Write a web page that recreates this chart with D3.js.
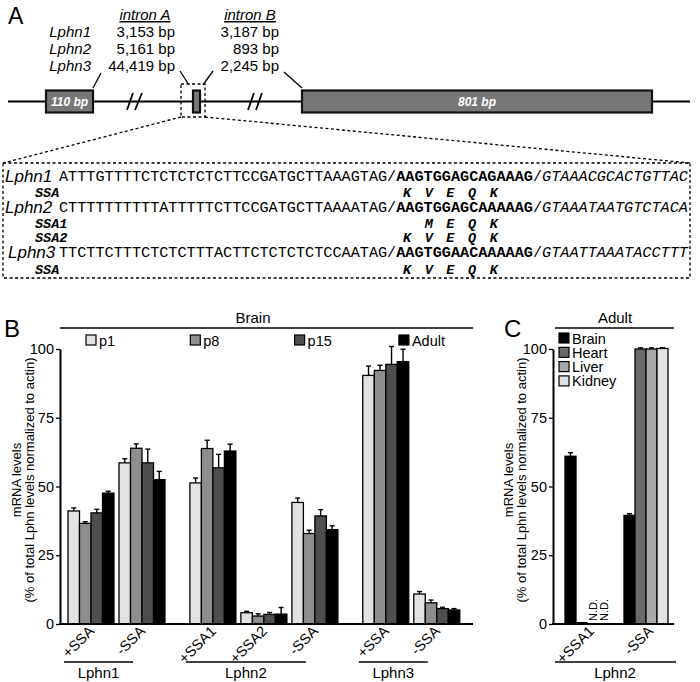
<!DOCTYPE html>
<html><head><meta charset="utf-8">
<script src="https://cdn.jsdelivr.net/npm/d3@7"></script>
<style>body{margin:0;background:#fff} svg{display:block}</style>
</head><body>
<script>
// ---------------- DATA ----------------
// Panel A
const geneNames = ["Lphn1", "Lphn2", "Lphn3"];
const intronALengths = ["3,153 bp", "5,161 bp", "44,419 bp"];
const intronBLengths = ["3,187 bp", "893 bp", "2,245 bp"];
const exonLabels = ["110 bp", "", "801 bp"];
const seqIntron5 = ["ATTTGTTTTCTCTCTCTCTTCCGATGCTTAAAGTAG", "CTTTTTTTTTTATTTTTCTTCCGATGCTTAAAATAG", "TTCTTCTTTCTCTCTTTACTTCTCTCTCTCCAATAG"];
const seqExon = ["AAGTGGAGCAGAAAG", "AAGTGGAGCAAAAAG", "AAGTGGAACAAAAAG"];
const seqIntron3 = ["GTAAACGCACTGTTAC", "GTAAATAATGTCTACA", "GTAATTAAATACCTTT"];
const aaRowLabels = [["SSA"], ["SSA1", "SSA2"], ["SSA"]];
const aaRows = [[["K","V","E","Q","K"]], [["","M","E","Q","K"], ["K","V","E","Q","K"]], [["K","V","E","Q","K"]]];

// Panel B (Brain, developmental stages)
const stages = ["p1", "p8", "p15", "Adult"];
const genesB = ["Lphn1", "Lphn2", "Lphn3"];
const groupsB = ["+SSA", "-SSA", "+SSA1", "+SSA2", "-SSA", "+SSA", "-SSA"];
const groupGeneB = [0, 0, 1, 1, 1, 2, 2];
const p1Values    = [41.1, 58.6, 51.3, 4.1, 44.2, 90.4, 10.9];
const p8Values    = [36.6, 63.9, 63.8, 2.9, 32.9, 92.2, 7.7];
const p15Values   = [40.4, 58.6, 56.8, 3.5, 39.3, 94.4, 5.6];
const adultValues = [47.6, 52.5, 62.9, 3.6, 34.3, 95.4, 5.1];
const p1Errors    = [1.1, 1.5, 1.8, 0.5, 1.6, 3.4, 0.9];
const p8Errors    = [0.6, 1.6, 3.0, 0.8, 1.2, 1.9, 1.0];
const p15Errors   = [1.3, 5.0, 4.9, 0.7, 2.3, 6.5, 0.5];
const adultErrors = [0.7, 3.0, 2.5, 2.4, 1.4, 4.5, 0.5];
const yTicks = [0, 25, 50, 75, 100];

// Panel C (Adult, tissues)
const tissues = ["Brain", "Heart", "Liver", "Kidney"];
const geneC = "Lphn2";
const groupsC = ["+SSA1", "-SSA"];
const brainValues  = [61.0, 39.5];
const heartValues  = [0.5, 100.0];
const liverValues  = [null, 100.0];
const kidneyValues = [null, 100.2];
const brainErrors  = [1.3, 0.6];
const heartErrors  = [0, 0.4];
const liverErrors  = [0, 0.4];
const kidneyErrors = [0, 0.3];

// ---------------- STYLE ----------------
const SANS = "'Liberation Sans', Arial, sans-serif";
const MONO = "'Liberation Mono', 'Courier New', monospace";
const stageColors = {p1: "#e2e2e2", p8: "#8e8e8e", p15: "#4e4e4e", Adult: "#000000"};
const tissueColors = {Brain: "#000000", Heart: "#6a6a6a", Liver: "#a9a9a9", Kidney: "#e2e2e2"};

const svg = d3.select("body").append("svg").attr("width", 700).attr("height", 682)
  .style("font-family", SANS);

// ================= PANEL A =================
const A = svg.append("g");
A.append("text").attr("x", 8).attr("y", 24).attr("font-size", 23).text("A");
A.append("text").attr("x", 145).attr("y", 20).attr("text-anchor", "middle").attr("font-size", 15)
  .attr("font-style", "italic").attr("text-decoration", "underline").text("intron A");
A.append("text").attr("x", 250).attr("y", 20).attr("text-anchor", "middle").attr("font-size", 15)
  .attr("font-style", "italic").attr("text-decoration", "underline").text("intron B");
const rowY = d3.scaleLinear().domain([0, 1]).range([37, 54]);
geneNames.forEach((g, i) => {
  A.append("text").attr("x", 91).attr("y", rowY(i)).attr("text-anchor", "end").attr("font-size", 15)
    .attr("font-style", "italic").text(g);
  A.append("text").attr("x", 175).attr("y", rowY(i)).attr("text-anchor", "end").attr("font-size", 15).text(intronALengths[i]);
  A.append("text").attr("x", 279).attr("y", rowY(i)).attr("text-anchor", "end").attr("font-size", 15).text(intronBLengths[i]);
});
// gene line
A.append("line").attr("x1", 8).attr("x2", 690).attr("y1", 101.5).attr("y2", 101.5).attr("stroke", "#000").attr("stroke-width", 2);
// breaks
[[127, 133], [135, 142], [248, 254], [256, 262]].forEach(([a, b]) => {
  A.append("line").attr("x1", a).attr("y1", 110).attr("x2", b).attr("y2", 93).attr("stroke", "#000").attr("stroke-width", 1.8);
});
// exons
const exonX = [[46, 93], [193, 200], [302, 652]];
exonX.forEach(([a, b], i) => {
  A.append("rect").attr("x", a).attr("y", 90.5).attr("width", b - a).attr("height", 22)
    .attr("fill", "#777").attr("stroke", "#111").attr("stroke-width", 2.2);
  if (exonLabels[i]) A.append("text").attr("x", (a + b) / 2).attr("y", 106).attr("text-anchor", "middle")
    .attr("font-size", 12).attr("font-weight", "bold").attr("font-style", "italic").attr("fill", "#fff").text(exonLabels[i]);
});
// connectors
[[93, 88, 101, 73], [189, 85, 180, 71], [203, 85, 213, 71], [302, 88, 284, 72]].forEach(([x1, y1, x2, y2]) => {
  A.append("line").attr("x1", x1).attr("y1", y1).attr("x2", x2).attr("y2", y2).attr("stroke", "#000").attr("stroke-width", 1.3);
});
const dash = "3,2.5";
A.append("rect").attr("x", 181).attr("y", 84).attr("width", 24).attr("height", 33).attr("fill", "none")
  .attr("stroke", "#000").attr("stroke-width", 1.3).attr("stroke-dasharray", dash);
A.append("line").attr("x1", 181).attr("y1", 117).attr("x2", 3).attr("y2", 163).attr("stroke", "#000").attr("stroke-width", 1.3).attr("stroke-dasharray", dash);
A.append("line").attr("x1", 205).attr("y1", 117).attr("x2", 690).attr("y2", 163).attr("stroke", "#000").attr("stroke-width", 1.3).attr("stroke-dasharray", dash);
A.append("rect").attr("x", 3).attr("y", 163).attr("width", 687).attr("height", 115).attr("fill", "none")
  .attr("stroke", "#000").attr("stroke-width", 1.3).attr("stroke-dasharray", dash);

// sequences
const seqX0 = 59, seqFont = 15.2;
const seqRowY = [181, 212, 257];
const aaRowY = [[196.5], [228, 241.5], [273.5]];
const aaX0 = 407, aaStep = 21.7;
geneNames.forEach((g, i) => {
  A.append("text").attr("x", i === 2 ? 8 : 5).attr("y", seqRowY[i] + 1).attr("font-size", 17).attr("font-style", "italic").text(g);
  const t = A.append("text").attr("x", seqX0).attr("y", seqRowY[i]).attr("font-family", MONO).attr("font-size", seqFont)
    .attr("xml:space", "preserve");
  t.append("tspan").text(seqIntron5[i] + "/");
  t.append("tspan").attr("font-weight", "bold").text(seqExon[i]);
  t.append("tspan").text("/");
  t.append("tspan").attr("font-style", "italic").text(seqIntron3[i]);
  aaRowLabels[i].forEach((lab, j) => {
    A.append("text").attr("x", 35).attr("y", aaRowY[i][j]).attr("font-family", MONO).attr("font-size", 13.5)
      .attr("font-weight", "bold").attr("font-style", "italic").text(lab);
    aaRows[i][j].forEach((aa, k) => {
      if (!aa) return;
      A.append("text").attr("x", aaX0 + k * aaStep).attr("y", aaRowY[i][j]).attr("text-anchor", "middle")
        .attr("font-family", MONO).attr("font-size", 13.5).attr("font-weight", "bold").attr("font-style", "italic").text(aa);
    });
  });
});

// ================= PANEL B =================
const B = svg.append("g");
const y = d3.scaleLinear().domain([0, 100]).range([624, 349]);
const slot = i => i + groupGeneB[i] * 0.39;
const xSlot = d3.scaleLinear().domain([0, 1]).range([68, 119]);
const xInner = d3.scaleBand().domain(stages).range([0, 46]);
const valsB = {p1: p1Values, p8: p8Values, p15: p15Values, Adult: adultValues};
const errsB = {p1: p1Errors, p8: p8Errors, p15: p15Errors, Adult: adultErrors};

B.append("text").attr("x", 4).attr("y", 337).attr("font-size", 24).text("B");
B.append("line").attr("x1", 60).attr("x2", 473).attr("y1", 328).attr("y2", 328).attr("stroke", "#000").attr("stroke-width", 1.5);
B.append("text").attr("x", 253).attr("y", 323).attr("text-anchor", "middle").attr("font-size", 15).text("Brain");
const legX = d3.scaleLinear().domain([0, 1]).range([86, 190.3]);
stages.forEach((s, i) => {
  B.append("rect").attr("x", legX(i)).attr("y", 335).attr("width", 10).attr("height", 10)
    .attr("fill", stageColors[s]).attr("stroke", "#000").attr("stroke-width", 1.2);
  B.append("text").attr("x", legX(i) + 13).attr("y", 345.5).attr("font-size", 14.5).text(s);
});

function yAxisLabel(g, cx1, cx2) {
  g.append("text").attr("transform", `translate(${cx1},480) rotate(-90)`).attr("text-anchor", "middle")
    .attr("font-size", 13).text("mRNA levels");
  g.append("text").attr("transform", `translate(${cx2},480) rotate(-90)`).attr("text-anchor", "middle")
    .attr("font-size", 13).text("(% of total Lphn levels normalized to actin)");
}
function drawYAxis(g, x0) {
  const ax = g.append("g").attr("transform", `translate(${x0},0)`)
    .call(d3.axisLeft(y).tickValues(yTicks).tickSize(4).tickSizeOuter(0).tickPadding(2));
  ax.select(".domain").attr("stroke-width", 2);
  ax.selectAll(".tick line").attr("stroke-width", 1.3);
  ax.selectAll(".tick text").attr("font-size", 14.5).attr("font-family", SANS);
}
drawYAxis(B, 60);
yAxisLabel(B, 21, 34);

groupsB.forEach((grp, i) => {
  const gx = xSlot(slot(i));
  stages.forEach(s => {
    const v = valsB[s][i], e = errsB[s][i];
    const bx = gx + xInner(s), cx = bx + xInner.bandwidth() / 2;
    B.append("line").attr("x1", cx).attr("x2", cx).attr("y1", y(v)).attr("y2", y(v + e)).attr("stroke", "#000").attr("stroke-width", 1.4);
    B.append("line").attr("x1", cx - 2.5).attr("x2", cx + 2.5).attr("y1", y(v + e)).attr("y2", y(v + e)).attr("stroke", "#000").attr("stroke-width", 1.4);
    B.append("rect").attr("x", bx).attr("y", y(v)).attr("width", xInner.bandwidth()).attr("height", y(0) - y(v))
      .attr("fill", stageColors[s]).attr("stroke", "#000").attr("stroke-width", 1.3);
  });
  const cx = gx + 23;
  B.append("text").attr("transform", `translate(${cx + 4},632) rotate(-45)`).attr("text-anchor", "end")
    .attr("font-size", 14.5).text(grp);
});
B.append("line").attr("x1", 59).attr("x2", 473).attr("y1", y(0)).attr("y2", y(0)).attr("stroke", "#000").attr("stroke-width", 2);
genesB.forEach((g, gi) => {
  const idx = groupGeneB.map((d, i) => d === gi ? i : -1).filter(i => i >= 0);
  const x1 = xSlot(slot(idx[0])) - 4;
  const x2 = xSlot(slot(idx[idx.length - 1])) + 23 - 9;
  B.append("line").attr("x1", x1).attr("x2", x2).attr("y1", 662).attr("y2", 662).attr("stroke", "#000").attr("stroke-width", 1.5);
  B.append("text").attr("x", (x1 + x2) / 2).attr("y", 678).attr("text-anchor", "middle").attr("font-size", 15).text(g);
});

// ================= PANEL C =================
const C = svg.append("g");
const xSlotC = d3.scaleLinear().domain([0, 1]).range([565, 624]);
const xInnerC = d3.scaleBand().domain(tissues).range([0, 44]);
const valsC = {Brain: brainValues, Heart: heartValues, Liver: liverValues, Kidney: kidneyValues};
const errsC = {Brain: brainErrors, Heart: heartErrors, Liver: liverErrors, Kidney: kidneyErrors};

C.append("text").attr("x", 504).attr("y", 337).attr("font-size", 24).text("C");
C.append("line").attr("x1", 555).attr("x2", 674).attr("y1", 328).attr("y2", 328).attr("stroke", "#000").attr("stroke-width", 1.5);
C.append("text").attr("x", 615).attr("y", 323).attr("text-anchor", "middle").attr("font-size", 15).text("Adult");
tissues.forEach((t, i) => {
  const ly = 333 + i * 14.3;
  C.append("rect").attr("x", 559).attr("y", ly).attr("width", 10).attr("height", 10)
    .attr("fill", tissueColors[t]).attr("stroke", "#000").attr("stroke-width", 1.2);
  C.append("text").attr("x", 572).attr("y", ly + 10.5).attr("font-size", 14.5).text(t);
});
drawYAxis(C, 553);
yAxisLabel(C, 513, 526);

groupsC.forEach((grp, i) => {
  const gx = xSlotC(i);
  tissues.forEach(t => {
    const v = valsC[t][i], e = errsC[t][i];
    const bx = gx + xInnerC(t), cx = bx + xInnerC.bandwidth() / 2;
    if (v === null) {
      C.append("text").attr("transform", `translate(${cx + 4},621) rotate(-90)`).attr("font-size", 11).text("N.D.");
      return;
    }
    if (e > 0) {
      C.append("line").attr("x1", cx).attr("x2", cx).attr("y1", y(v)).attr("y2", y(v + e)).attr("stroke", "#000").attr("stroke-width", 1.4);
      C.append("line").attr("x1", cx - 2.5).attr("x2", cx + 2.5).attr("y1", y(v + e)).attr("y2", y(v + e)).attr("stroke", "#000").attr("stroke-width", 1.4);
    }
    C.append("rect").attr("x", bx).attr("y", y(v)).attr("width", xInnerC.bandwidth()).attr("height", y(0) - y(v))
      .attr("fill", tissueColors[t]).attr("stroke", "#000").attr("stroke-width", 1.3);
  });
  C.append("text").attr("transform", `translate(${gx + 22 + 8},632) rotate(-45)`).attr("text-anchor", "end")
    .attr("font-size", 14.5).text(grp);
});
C.append("line").attr("x1", 552).attr("x2", 674).attr("y1", y(0)).attr("y2", y(0)).attr("stroke", "#000").attr("stroke-width", 2);
C.append("line").attr("x1", 555).attr("x2", 676).attr("y1", 662).attr("y2", 662).attr("stroke", "#000").attr("stroke-width", 1.5);
C.append("text").attr("x", 615).attr("y", 678).attr("text-anchor", "middle").attr("font-size", 15).text(geneC);
</script>
</body></html>
